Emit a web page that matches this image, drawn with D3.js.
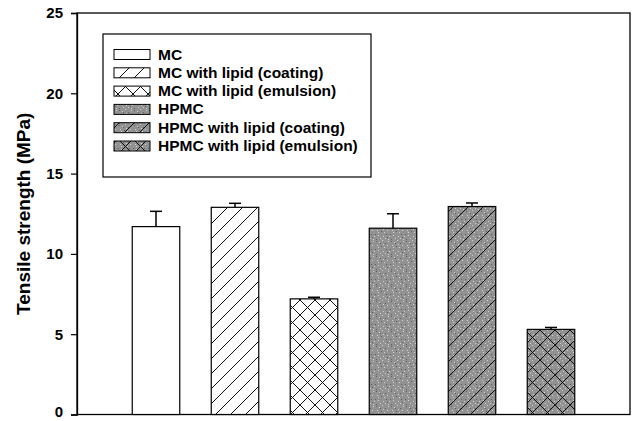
<!DOCTYPE html>
<html>
<head>
<meta charset="utf-8">
<script src="https://cdn.jsdelivr.net/npm/d3@7"></script>
<style>
  html, body { margin: 0; padding: 0; background: #fff; }
  svg { display: block; font-family: Arial, "Liberation Sans", sans-serif; font-weight: bold; }
</style>
</head>
<body>
<svg id="chart" width="637" height="421"></svg>
<script>
// tensile strength bars, hatched like the old SigmaPlot figure
var categories = ["MC", "MC with lipid (coating)", "MC with lipid (emulsion)",
                  "HPMC", "HPMC with lipid (coating)", "HPMC with lipid (emulsion)"];
var values = [11.7, 12.9, 7.2, 11.6, 12.95, 5.3];
var errors = [0.95, 0.25, 0.1, 0.9, 0.22, 0.12];
var fills = ["white", "coat", "emul", "gray", "graycoat", "grayemul"];
var yTicks = [0, 5, 10, 15, 20, 25];

var svg = d3.select("#chart");
var M = { l: 77, r: 7, t: 13, b: 6.5 };
var W = 637, H = 421;
var x = d3.scaleLinear().domain([0, categories.length + 1]).range([M.l, W - M.r]);
var y = d3.scaleLinear().domain([0, 25]).range([H - M.b, M.t]);
var barW = 47.5;

// patterns
var defs = svg.append("defs");
function grayBase(p) {
  p.append("rect").attr("width", 15).attr("height", 15).attr("fill", "#929292");
  // mottled texture
  var dots = [[1,1],[4,2],[7,0],[10,3],[13,1],[2,5],[6,6],[9,7],[12,5],[0,9],[3,10],[8,11],[11,9],[14,11],[5,13],[1,14],[10,13],[13,14],[5,3],[8,4],[3,7],[12,12]];
  dots.forEach(function (d, i) {
    p.append("rect").attr("x", d[0]).attr("y", d[1]).attr("width", 1).attr("height", 1)
      .attr("fill", i % 3 === 0 ? "#5e5e5e" : "#d2d2d2");
  });
}
function slash(p) {
  p.append("path").attr("d", "M0,15L15,0M-3,3L3,-3M12,18L18,12")
    .attr("stroke", "#111").attr("stroke-width", 1).attr("fill", "none");
}
function back(p) {
  p.append("path").attr("d", "M0,0L15,15M-3,12L3,18M12,-3L18,3")
    .attr("stroke", "#111").attr("stroke-width", 1).attr("fill", "none");
}
function pat(id) {
  return defs.append("pattern").attr("id", id).attr("patternUnits", "userSpaceOnUse")
    .attr("width", 15).attr("height", 15);
}
var p;
p = pat("coat"); p.append("rect").attr("width", 15).attr("height", 15).attr("fill", "#fff"); slash(p);
p = pat("emul"); p.append("rect").attr("width", 15).attr("height", 15).attr("fill", "#fff"); slash(p); back(p);
p = pat("gray"); grayBase(p);
p = pat("graycoat"); grayBase(p); slash(p);
p = pat("grayemul"); grayBase(p); slash(p); back(p);
function fillOf(f) { return f === "white" ? "#fff" : "url(#" + f + ")"; }

// frame
svg.append("rect").attr("x", x(0)).attr("y", y(25)).attr("width", x(7) - x(0)).attr("height", y(0) - y(25))
  .attr("fill", "none").attr("stroke", "#000").attr("stroke-width", 1.3);

// y axis
var ax = svg.append("g").attr("transform", "translate(" + M.l + ",0)")
  .call(d3.axisLeft(y).tickValues(yTicks).tickSize(6).tickPadding(8));
ax.select(".domain").attr("stroke-width", 1.3);
ax.selectAll("line").attr("stroke-width", 1.2);
ax.selectAll("text").style("font-size", "15px").style("font-weight", "bold")
  .style("font-family", "Arial, 'Liberation Sans', sans-serif").attr("fill", "#000")
  .attr("dy", function (d) { return d === 0 ? "0.15em" : "0.32em"; });

svg.append("text").attr("transform", "translate(30," + ((y(0) + y(25)) / 2) + ") rotate(-90)")
  .attr("text-anchor", "middle").style("font-size", "19px").text("Tensile strength (MPa)");

// error bars (upper only)
var g = svg.append("g");
values.forEach(function (v, i) {
  var cx = x(i + 1);
  g.append("line").attr("x1", cx).attr("x2", cx).attr("y1", y(v)).attr("y2", y(v + errors[i]))
    .attr("stroke", "#000").attr("stroke-width", 1.5);
  g.append("line").attr("x1", cx - 6).attr("x2", cx + 6).attr("y1", y(v + errors[i])).attr("y2", y(v + errors[i]))
    .attr("stroke", "#000").attr("stroke-width", 1.5);
});

// bars
g.selectAll("rect.bar").data(values).enter().append("rect").attr("class", "bar")
  .attr("x", function (d, i) { return x(i + 1) - barW / 2; })
  .attr("y", function (d) { return y(d); })
  .attr("width", barW)
  .attr("height", function (d) { return y(0) - y(d); })
  .attr("fill", function (d, i) { return fillOf(fills[i]); })
  .attr("stroke", "#000").attr("stroke-width", 1.2);

// legend
var lg = svg.append("g").attr("transform", "translate(103,34)");
lg.append("rect").attr("width", 268).attr("height", 143).attr("fill", "#fff")
  .attr("stroke", "#000").attr("stroke-width", 1.2);
categories.forEach(function (c, i) {
  var yy = 20 + i * 18.3;
  lg.append("rect").attr("x", 11).attr("y", yy - 4.5).attr("width", 36).attr("height", 10)
    .attr("fill", fillOf(fills[i])).attr("stroke", "#000").attr("stroke-width", 1);
  lg.append("text").attr("x", 55).attr("y", yy + 5.5).style("font-size", "15.5px").text(c);
});
</script>
</body>
</html>
